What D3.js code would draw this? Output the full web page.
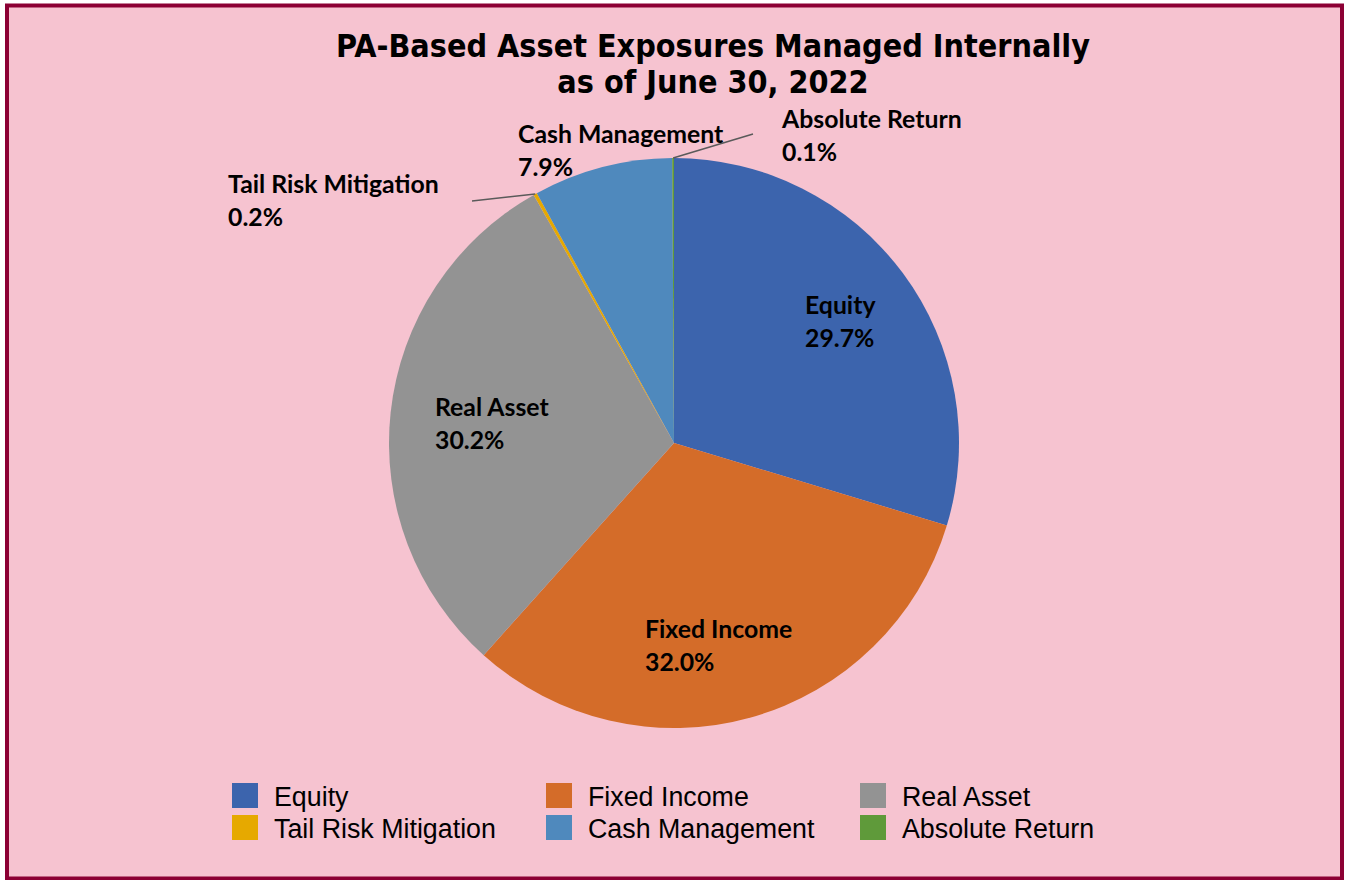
<!DOCTYPE html>
<html>
<head>
<meta charset="utf-8">
<script src="https://cdn.jsdelivr.net/npm/d3@7"></script>
<style>
  html, body { margin: 0; padding: 0; background: #fff; }
  svg { display: block; }
</style>
</head>
<body>
<div id="chart"></div>
<script>
// values
const categories = ["Equity", "Fixed Income", "Real Asset", "Tail Risk Mitigation", "Cash Management", "Absolute Return"];
const shares = [29.7, 32.0, 30.2, 0.2, 7.9, 0.1];
const colors = ["#3c64ad", "#d46c29", "#939393", "#e6a900", "#4f89bd", "#5f9a3a"];
const titleLines = ["PA-Based Asset Exposures Managed Internally", "as of June 30, 2022"];

// label placement, relative to the pie centre (text start x, first baseline)
const labelOffsets = [
  [131, -129], [-29, 195], [-239, -27], [-446, -250], [-156, -300], [108, -315]
];
// leader line ends for the thin slices (null = no leader)
const leaderEnds = [null, null, null, [-202, -242], null, [79, -309]];

const width = 1345, height = 880;
const cx = 674, cy = 443, radius = 285;

const svg = d3.select("#chart")
  .append("svg")
  .attr("width", width)
  .attr("height", height);

svg.append("rect")
  .attr("x", 7).attr("y", 5.5)
  .attr("width", 1335).attr("height", 873)
  .attr("fill", "#f6c3d0")
  .attr("stroke", "#8c0034")
  .attr("stroke-width", 4);

// title
const title = svg.append("text")
  .attr("text-anchor", "middle")
  .attr("font-family", "'DejaVu Sans Condensed', 'DejaVu Sans', sans-serif")
  .attr("font-weight", "bold")
  .attr("font-size", 32)
  .attr("fill", "#000");
title.selectAll("tspan")
  .data(titleLines)
  .enter()
  .append("tspan")
  .attr("x", 713)
  .attr("y", (d, i) => 57 + i * 36)
  .text((d) => d);

const pie = d3.pie().sort(null).value((d) => d.value);
const arc = d3.arc().innerRadius(0).outerRadius(radius);
const edgeArc = d3.arc().innerRadius(radius).outerRadius(radius);

const rows = categories.map((c, i) => ({ name: c, value: shares[i], color: colors[i], index: i }));
const arcs = pie(rows);

const g = svg.append("g").attr("transform", `translate(${cx},${cy})`);

g.selectAll("path")
  .data(arcs)
  .enter()
  .append("path")
  .attr("d", arc)
  .attr("fill", (d) => d.data.color);

// leader lines
g.selectAll("line.leader")
  .data(arcs.filter((d) => leaderEnds[d.data.index]))
  .enter()
  .append("line")
  .attr("class", "leader")
  .attr("x1", (d) => edgeArc.centroid(d)[0])
  .attr("y1", (d) => edgeArc.centroid(d)[1])
  .attr("x2", (d) => leaderEnds[d.data.index][0])
  .attr("y2", (d) => leaderEnds[d.data.index][1])
  .attr("stroke", "#5a5a5a")
  .attr("stroke-width", 1.5);

// data labels
const pct = d3.format(".1f");
const labels = g.selectAll("text.label")
  .data(arcs)
  .enter()
  .append("text")
  .attr("class", "label")
  .attr("font-family", "Lato, 'Open Sans', sans-serif")
  .attr("font-weight", "bold")
  .attr("font-size", 24.8)
  .attr("fill", "#000");
labels.each(function (d) {
  const [ox, oy] = labelOffsets[d.data.index];
  const t = d3.select(this);
  t.append("tspan").attr("x", ox).attr("y", oy).text(d.data.name);
  t.append("tspan").attr("x", ox).attr("y", oy + 33).text(pct(d.data.value) + "%");
});

// legend
const legendX = d3.scalePoint().domain([0, 1, 2]).range([232, 860]);
const legendY = d3.scalePoint().domain([0, 1]).range([783, 815]);

const legend = svg.selectAll("g.legend")
  .data(rows)
  .enter()
  .append("g")
  .attr("class", "legend")
  .attr("transform", (d) => `translate(${legendX(d.index % 3)},${legendY(Math.floor(d.index / 3))})`);

legend.append("rect")
  .attr("width", 26)
  .attr("height", 25)
  .attr("fill", (d) => d.color);

legend.append("text")
  .attr("x", 42)
  .attr("y", 23)
  .attr("font-family", "'Liberation Sans', Arial, sans-serif")
  .attr("font-size", 26.8)
  .attr("fill", "#000")
  .text((d) => d.name);
</script>
</body>
</html>
